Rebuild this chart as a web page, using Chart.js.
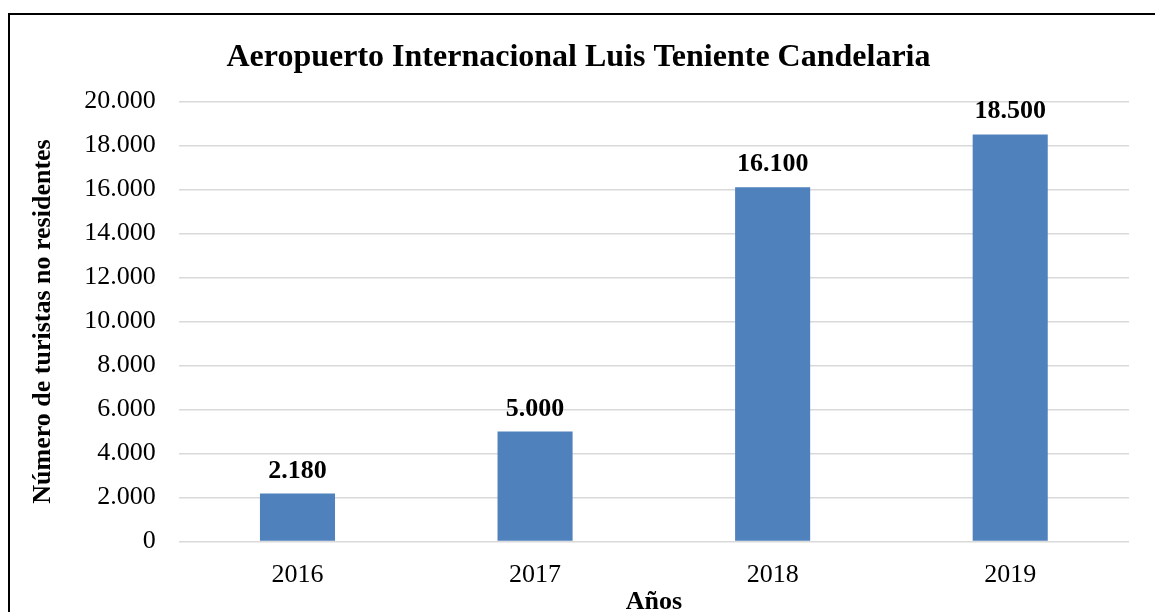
<!DOCTYPE html>
<html>
<head>
<meta charset="utf-8">
<script src="https://cdn.jsdelivr.net/npm/chart.js@4/dist/chart.umd.min.js"></script>
<style>
  html, body { margin: 0; padding: 0; background: #fff; overflow: hidden; }
  #wrap { position: absolute; left: 0; top: 0; width: 1155px; height: 625px; }
  #frame { position: absolute; left: 8px; top: 13px; width: 1200px; height: 700px; border: 2px solid #000; box-sizing: border-box; pointer-events: none; }
</style>
</head>
<body>
<div id="wrap"><canvas id="myChart"></canvas></div>
<div id="frame"></div>
<script>
'use strict';

var years = ['2016', '2017', '2018', '2019'];
var tourists = [2180, 5000, 16100, 18500];
var yTicks = [0, 2000, 4000, 6000, 8000, 10000, 12000, 14000, 16000, 18000, 20000];

var serif = "'Liberation Serif', 'Times New Roman', serif";

function miles(v){
    return Number(v).toLocaleString('de-DE');
}

// draws the bold values over each bar
var barLabels = {
    id: 'barLabels',
    afterDatasetsDraw: function(chart){
        var ctx = chart.ctx;
        var meta = chart.getDatasetMeta(0);
        ctx.save();
        ctx.font = 'bold 26px ' + serif;
        ctx.fillStyle = '#000';
        ctx.textAlign = 'center';
        ctx.textBaseline = 'alphabetic';
        for(var i = 0; i < meta.data.length; i++){
            var bar = meta.data[i];
            ctx.fillText(miles(tourists[i]), bar.x, bar.y - 16);
        }
        ctx.restore();
    }
};

var ctx = document.getElementById('myChart').getContext('2d');
var chart = new Chart(ctx, {
    type: 'bar',
    data: {
        labels: years,
        datasets: [{
            data: tourists,
            backgroundColor: '#4F81BD',
            borderWidth: 0,
            barPercentage: 0.316,
            categoryPercentage: 1
        }]
    },
    plugins: [barLabels],
    options: {
        responsive: true,
        maintainAspectRatio: false,
        animation: false,
        layout: { padding: { left: 28, right: 26, top: 16, bottom: 7 } },
        plugins: {
            legend: { display: false },
            tooltip: { enabled: false },
            title: {
                display: true,
                text: 'Aeropuerto Internacional Luis Teniente Candelaria',
                color: '#000',
                font: { family: serif, size: 32, weight: 'bold' },
                padding: { top: 23, bottom: 24 }
            }
        },
        scales: {
            x: {
                grid: { display: false, drawTicks: false },
                border: { display: false },
                ticks: { color: '#000', font: { family: serif, size: 26 }, padding: 18 },
                title: {
                    display: true,
                    text: 'Años',
                    color: '#000',
                    font: { family: serif, size: 26, weight: 'bold' },
                    padding: { top: -22, bottom: 0 }
                }
            },
            y: {
                min: 0,
                max: 20000,
                afterBuildTicks: function(scale){
                    scale.ticks = yTicks.map(function(v){ return { value: v }; });
                },
                grid: { color: '#d9d9d9', lineWidth: 1.5, drawTicks: false },
                border: { display: false },
                ticks: {
                    color: '#000',
                    font: { family: serif, size: 26 },
                    padding: 23,
                    callback: function(v){ return miles(v); }
                },
                title: {
                    display: true,
                    text: 'Número de turistas no residentes',
                    color: '#000',
                    font: { family: serif, size: 26, weight: 'bold' },
                    padding: { top: 0, bottom: 2 }
                }
            }
        }
    }
});
</script>
</body>
</html>
